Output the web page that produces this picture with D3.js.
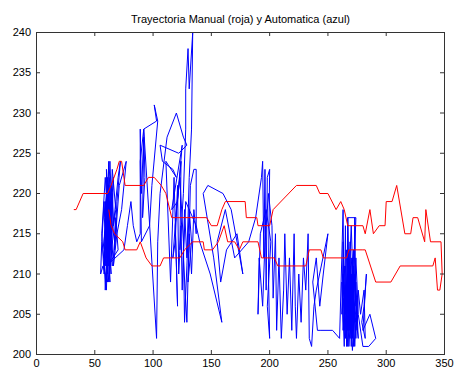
<!DOCTYPE html>
<meta charset="utf-8">
<style>
body {
  margin: 0;
  background: #fff;
}
text {
  font-family: "Liberation Sans", Arial, sans-serif;
  font-size: 11px;
  fill: #000;
}
.axis path { display: none; }
.axis line { stroke: #333; }
.box { fill: none; stroke: #333; }
.manual { fill: none; stroke: #ff0000; stroke-width: 1; }
.auto { fill: none; stroke: #0000ff; stroke-width: 1; }
</style>
<body>
<svg width="455" height="373"></svg>
<script src="https://d3js.org/d3.v7.min.js"></script>
<script>

var title = "Trayectoria Manual (roja) y Automatica (azul)";
var xTicks = [0, 50, 100, 150, 200, 250, 300, 350];
var yTicks = [200, 205, 210, 215, 220, 225, 230, 235, 240];

// trayectoria manual (roja)
var manualPath = [
  [32,218],[34,218],[40,220],[61,220],[64,221],[69,223],[71,224],[73,224],[76,221],[92,221],
  [96,222],[101,222],[107,221],[111,220],[116,217],[146,217],[150,216],[155,216],[159,218],[162,219],
  [179,219],[180,217],[189,217],[190,216],[200,216],[203,218],[223,221],[240,221],[243,220],[250,220],
  [257,218],[261,219],[264,218],[267,216],[280,216],[282,215],[286,218],[289,215],[294,216],[299,216],
  [300,219],[305,219],[309,221],[316,215],[321,215],[323,217],[327,217],[333,214],[334,218],[338,214],
  [347,214],[348,210],[346,208],[344,208],[342,212],[340,211],[312,211],[304,209],[291,209],[282,213],
  [280,213],[268,213],[266,212],[246,212],[244,213],[234,213],[231,211],[207,211],[204,212],[193,212],
  [190,214],[177,214],[174,213],[170,214],[164,214],[161,216],[156,214],[151,213],[144,213],[143,214],
  [134,214],[127,213],[123,212],[109,212],[106,211],[99,211],[94,212],[89,214],[86,213],[76,213],
  [74,214],[67,215],[64,216],[62,218]
];

// trayectoria automatica (azul)
var autoPath = [
  [60,214],[59,219],[61,210],[60,223],[62,212],[58,217],[61,221],[63,209],[60,216],[62,224],
  [59,211],[61,218],[57,213],[60,208],[62,220],[64,214],[61,212],[63,222],[60,219],[58,210],
  [56,215],[59,222],[62,215],[64,210],[61,217],[63,213],[65,219],[62,209],[60,213],[63,224],
  [65,216],[62,211],[64,221],[61,214],[59,208],[58,214],[60,220],[63,216],[66,222],[64,213],
  [62,218],[65,211],[63,219],[61,209],[57,211],[55,210],[56,214],[58,219],[60,212],[62,216],
  [65,220],[67,214],[64,217],[66,212],[63,215],[65,223],[68,218],[66,216],[70,222],[72,224],
  [69,219],[67,213],[71,221],[77,224],[73,218],[69,215],[66,211],[68,217],[70,213],
  [61,211],[59,216],[62,221],[60,209],[63,217],[58,212],[61,222],[64,215],[60,211],
  [75,213],[78,216],[81,219],[83,216],[86,214],[89,215],
  [89,228],[90,220],[92,227],[91,217],[93,222],[92,228],[103,229],[101,231],[104,229],[99,221],
  [97,216],[90,214],[89,224],[92,228],[103,202],[104,214],[106,220],[112,227],[120,230],[126,227],
  [129,226],[122,225],[106,226],[108,224],[117,223],[120,222],
  [111,224],[115,209],[118,222],[121,206],[119,216],[125,226],
  [116,218],[121,219],[124,224],[123,213],[126,220],[128,228],[128,233],[130,238],[131,233],[134,240],
  [133,228],[131,222],[129,212],[127,218],[125,208],[124,216],[122,210],[121,221],[119,214],[117,212],
  [120,218],[123,222],[126,214],[127,204],[129,211],[131,218],[133,214],[130,209],[132,221],[135,223],
  [137,223],[137,215],[135,218],[133,210],[131,215],[129,204],[126,212],[128,219],
  [137,216],[140,214],[149,210],[159,204],[152,212],[143,220],[147,221],[160,220],[167,218],[177,210],
  [172,215],[163,213],[158,209],[155,214],[162,218],[170,212],[182,214],[188,217],
  [193,222],[194,224],[195,212],[196,223],[197,208],[198,222],[200,223],[199,210],[200,202],[198,206],
  [201,214],[197,218],[192,215],[190,205],[191,212],[194,206],[196,214],[199,220],[202,216],
  [203,207],[205,215],[206,203],[208,212],[210,202],[212,208],[213,215],[215,205],[217,212],[219,203],
  [221,215],[222,206],[223,202],[225,210],[227,204],[229,212],[231,208],[233,215],[234,202],[236,201],
  [238,206],[240,208],[250,215],[246,210],[243,206],[240,212],[237,209],[241,203],[244,203],[254,203],
  [260,202],
  [263,218],[264,203],[265,216],[266,201],[267,217],[268,205],[269,214],[270,201],[271,212],[272,203],
  [273,217],[274,206],[272,211],[270,204],[268,213],[266,206],[264,211],[262,205],[263,214],[265,202],
  [267,210],[269,202],[271,208],[273,201],[275,207],[274,202],[272,209],[270,206],[268,201],[266,209],
  [264,204],[263,210],[265,207],[267,203],[269,209],[271,204],[273,210],[275,203],[276,208],[278,205],
  [281,208],[282,202],[279,204],[281,206],[283,210],[280,203],[286,205],[291,202],[285,201],[280,201],
  [276,205],[274,212],[272,207],[270,216],[268,209],[267,217],[274,217],[271,205],[269,211],[267,201],
  [265,208],[263,203],[262,209],[264,201],[266,213],[268,203],[270,210],[272,201],[274,209],[276,202],
  [273,206],[271,200.5],[269,207],[267,212],[265,205],[263,207],[266,203],[268,207],[270,202],[272,205],
  [274,204],[270,208],[268,211],[266,204],[264,208],[267,206],[269,203],[271,209],[273,204],[270,212],
  [268,206],[266,202],[264,206],[267,209],[269,205],[271,202],[272,213],[270,209],[268,204],[265,211]
];

var svg = d3.select("svg");

var x = d3.scaleLinear().domain([0, 350]).range([36, 444]);
var y = d3.scaleLinear().domain([200, 240]).range([354, 32]);

svg.append("clipPath")
    .attr("id", "plotArea")
  .append("rect")
    .attr("x", 36).attr("y", 32)
    .attr("width", 409).attr("height", 323);

var line = d3.line()
    .x(function(d) { return x(d[0]) + 0.5; })
    .y(function(d) { return y(d[1]) + 0.5; });

var plot = svg.append("g").attr("clip-path", "url(#plotArea)");

plot.append("path")
    .datum(autoPath)
    .attr("class", "auto")
    .attr("d", line);

plot.append("path")
    .datum(manualPath)
    .attr("class", "manual")
    .attr("d", line);

// ejes con marcas hacia adentro en los cuatro lados
svg.append("g")
    .attr("class", "axis")
    .attr("transform", "translate(0,354)")
    .call(d3.axisBottom(x).tickValues(xTicks).tickSize(-4).tickPadding(5));

svg.append("g")
    .attr("class", "axis")
    .attr("transform", "translate(0,32)")
    .call(d3.axisTop(x).tickValues(xTicks).tickSize(-4).tickFormat(""));

svg.append("g")
    .attr("class", "axis")
    .attr("transform", "translate(36,0)")
    .call(d3.axisLeft(y).tickValues(yTicks).tickSize(-4).tickPadding(5));

svg.append("g")
    .attr("class", "axis")
    .attr("transform", "translate(444,0)")
    .call(d3.axisRight(y).tickValues(yTicks).tickSize(-4).tickFormat(""));

svg.selectAll(".axis text")
    .attr("font-family", null)
    .attr("font-size", null)
    .attr("fill", null);

svg.append("rect")
    .attr("class", "box")
    .attr("x", 36.5).attr("y", 32.5)
    .attr("width", 408).attr("height", 322);

svg.append("text")
    .attr("x", 240.5)
    .attr("y", 23)
    .attr("text-anchor", "middle")
    .text(title);

</script>
</body>
